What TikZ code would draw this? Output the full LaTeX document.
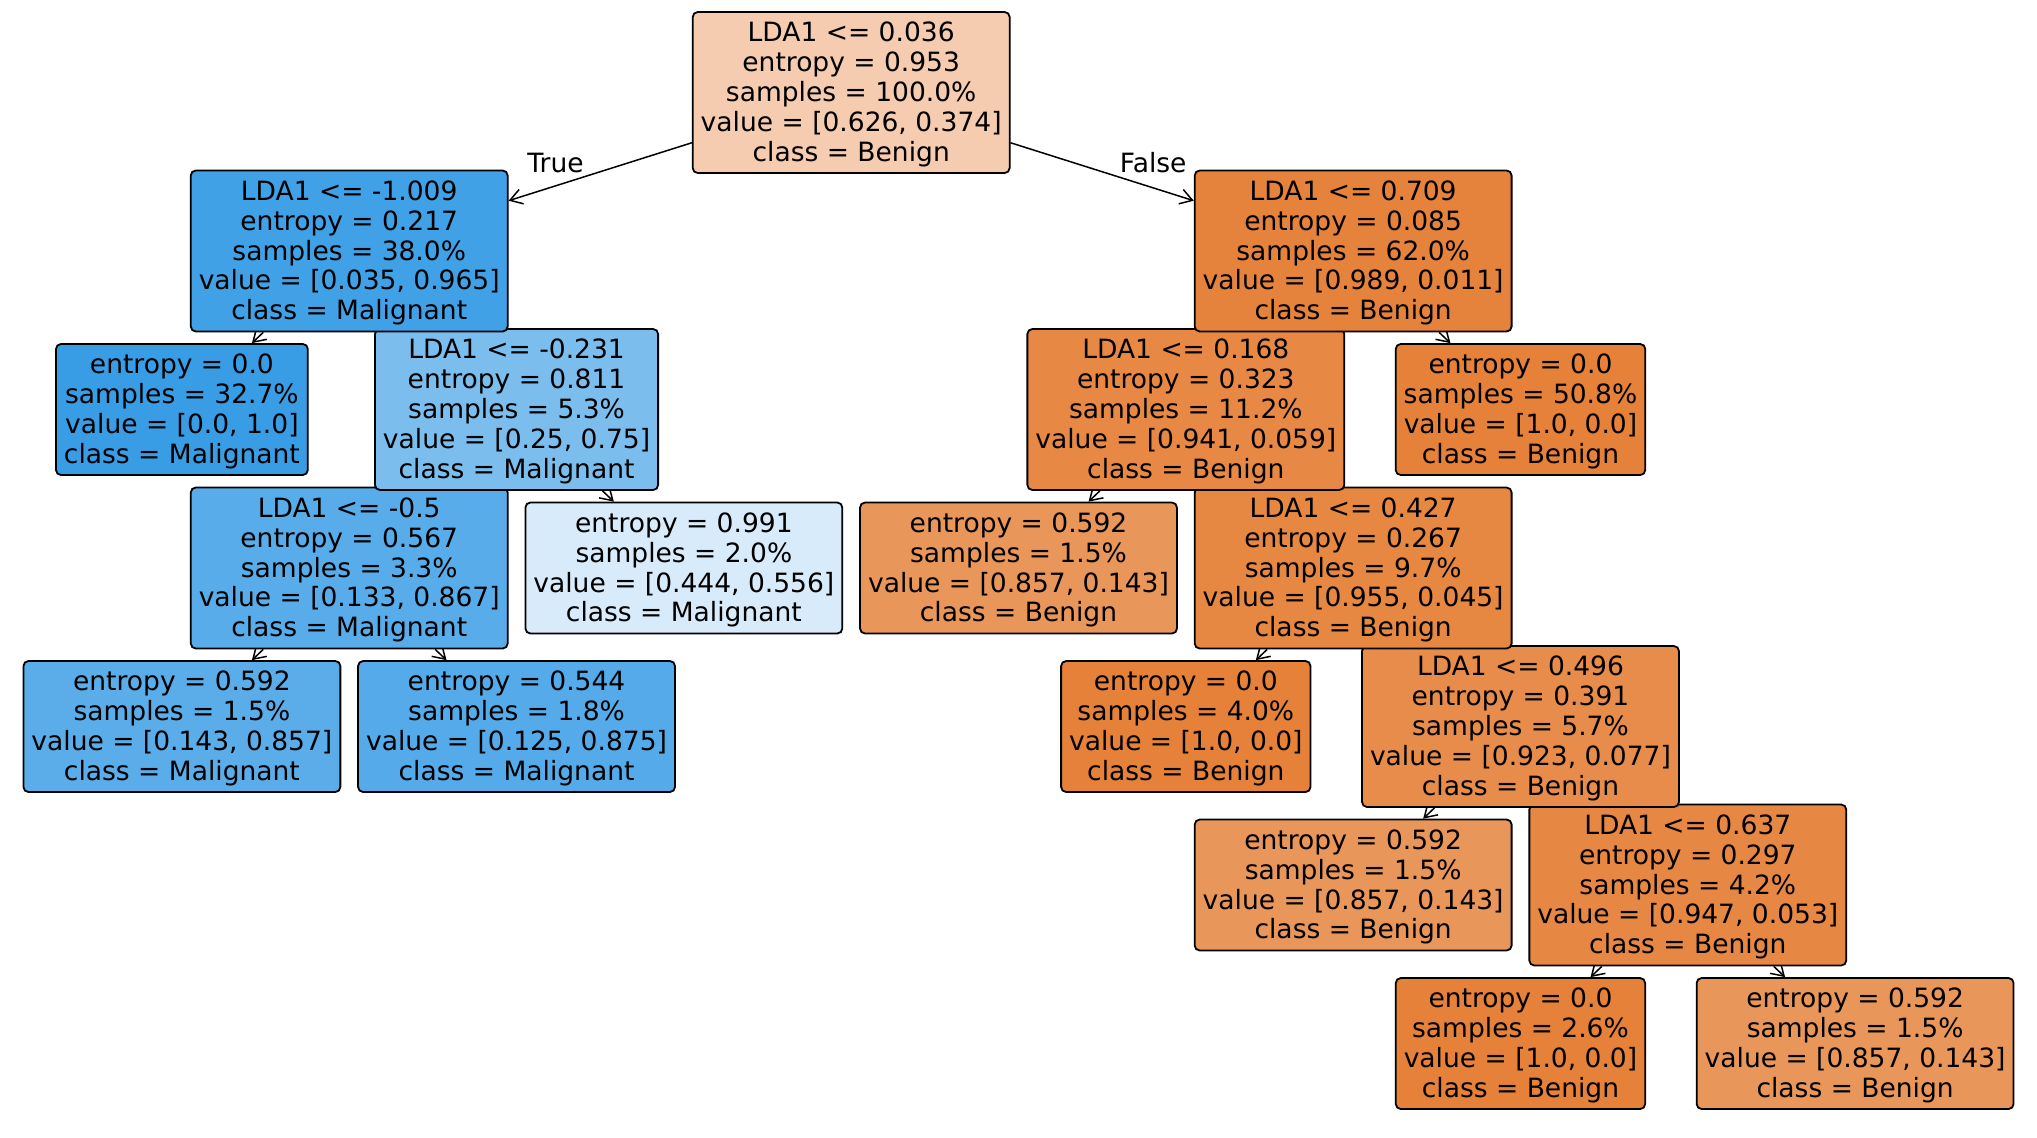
\documentclass[tikz,border=0pt]{standalone}
\usepackage{fontspec}
\setmainfont{DejaVu Sans}
\usetikzlibrary{arrows.meta}
\pgfdeclarelayer{background}
\pgfsetlayers{background,main}

% node fills: white blended toward the class colour by node purity
\definecolor{cN0}{RGB}{245,204,175}
\definecolor{cL}{RGB}{64,161,230}
\definecolor{cR}{RGB}{229,130,59}
\definecolor{cLL}{RGB}{57,157,229}
\definecolor{cLR}{RGB}{123,190,238}
\definecolor{cLRL}{RGB}{87,172,233}
\definecolor{cLRR}{RGB}{215,235,250}
\definecolor{cLRLL}{RGB}{90,173,233}
\definecolor{cLRLR}{RGB}{85,171,233}
\definecolor{cRL}{RGB}{231,137,69}
\definecolor{cPure}{RGB}{229,129,57}
\definecolor{cMix}{RGB}{233,150,90}
\definecolor{cRLR}{RGB}{230,135,66}
\definecolor{cRLRR}{RGB}{231,140,74}
\definecolor{cRLRRR}{RGB}{230,136,68}

\newcommand{\gx}[1]{181.9+167.32*#1}
\newcommand{\gy}[1]{92.5+158.5*#1}
% raises the top of the first text line a little, centring the block like the boxes
\newcommand{\topstrut}{\rule{0pt}{11.8pt}}

\begin{document}
\begin{tikzpicture}[x=0.5pt,y=-0.5pt,
  treebox/.style={draw=black, line width=0.9pt, rounded corners=2.5pt,
    align=center, inner xsep=4pt, inner ysep=2pt,
    font=\fontsize{13.26}{14.94}\selectfont},
  split/.style={treebox, minimum height=80.5pt},
  leaf/.style={treebox, minimum height=65.5pt},
  edge/.style={line width=0.75pt, -{Straight Barb[length=6pt,width=7.5pt]}},
  lbl/.style={font=\fontsize{13.26}{14.94}\selectfont, inner sep=0pt}
]
\useasboundingbox (0,0) rectangle (2037,1137);

% deeper levels first, so that each parent box lies over its children
% depth 6
\node[leaf, fill=cPure] (rlrrrl) at ({\gx{8}},{\gy{6}})
  {\topstrut entropy = 0.0\\samples = 2.6\%\\value = [1.0, 0.0]\\class = Benign};
\node[leaf, fill=cMix] (rlrrrr) at ({\gx{10}},{\gy{6}})
  {\topstrut entropy = 0.592\\samples = 1.5\%\\value = [0.857, 0.143]\\class = Benign};
% depth 5
\node[leaf, fill=cMix] (rlrrl) at ({\gx{7}},{\gy{5}})
  {\topstrut entropy = 0.592\\samples = 1.5\%\\value = [0.857, 0.143]\\class = Benign};
\node[split, fill=cRLRRR] (rlrrr) at ({\gx{9}},{\gy{5}})
  {\topstrut LDA1 <= 0.637\\entropy = 0.297\\samples = 4.2\%\\value = [0.947, 0.053]\\class = Benign};
% depth 4
\node[leaf, fill=cLRLL] (lrll) at ({\gx{0}},{\gy{4}})
  {\topstrut entropy = 0.592\\samples = 1.5\%\\value = [0.143, 0.857]\\class = Malignant};
\node[leaf, fill=cLRLR] (lrlr) at ({\gx{2}},{\gy{4}})
  {\topstrut entropy = 0.544\\samples = 1.8\%\\value = [0.125, 0.875]\\class = Malignant};
\node[leaf, fill=cPure] (rlrl) at ({\gx{6}},{\gy{4}})
  {\topstrut entropy = 0.0\\samples = 4.0\%\\value = [1.0, 0.0]\\class = Benign};
\node[split, fill=cRLRR] (rlrr) at ({\gx{8}},{\gy{4}})
  {\topstrut LDA1 <= 0.496\\entropy = 0.391\\samples = 5.7\%\\value = [0.923, 0.077]\\class = Benign};
% depth 3
\node[split, fill=cLRL] (lrl) at ({\gx{1}},{\gy{3}})
  {\topstrut LDA1 <= -0.5\\entropy = 0.567\\samples = 3.3\%\\value = [0.133, 0.867]\\class = Malignant};
\node[leaf, fill=cLRR] (lrr) at ({\gx{3}},{\gy{3}})
  {\topstrut entropy = 0.991\\samples = 2.0\%\\value = [0.444, 0.556]\\class = Malignant};
\node[leaf, fill=cMix] (rll) at ({\gx{5}},{\gy{3}})
  {\topstrut entropy = 0.592\\samples = 1.5\%\\value = [0.857, 0.143]\\class = Benign};
\node[split, fill=cRLR] (rlr) at ({\gx{7}},{\gy{3}})
  {\topstrut LDA1 <= 0.427\\entropy = 0.267\\samples = 9.7\%\\value = [0.955, 0.045]\\class = Benign};
% depth 2
\node[leaf, fill=cLL] (ll) at ({\gx{0}},{\gy{2}})
  {\topstrut entropy = 0.0\\samples = 32.7\%\\value = [0.0, 1.0]\\class = Malignant};
\node[split, fill=cLR] (lr) at ({\gx{2}},{\gy{2}})
  {\topstrut LDA1 <= -0.231\\entropy = 0.811\\samples = 5.3\%\\value = [0.25, 0.75]\\class = Malignant};
\node[split, fill=cRL] (rl) at ({\gx{6}},{\gy{2}})
  {\topstrut LDA1 <= 0.168\\entropy = 0.323\\samples = 11.2\%\\value = [0.941, 0.059]\\class = Benign};
\node[leaf, fill=cPure] (rr) at ({\gx{8}},{\gy{2}})
  {\topstrut entropy = 0.0\\samples = 50.8\%\\value = [1.0, 0.0]\\class = Benign};
% depth 1
\node[split, fill=cL] (l) at ({\gx{1}},{\gy{1}})
  {\topstrut LDA1 <= -1.009\\entropy = 0.217\\samples = 38.0\%\\value = [0.035, 0.965]\\class = Malignant};
\node[split, fill=cR] (r) at ({\gx{7}},{\gy{1}})
  {\topstrut LDA1 <= 0.709\\entropy = 0.085\\samples = 62.0\%\\value = [0.989, 0.011]\\class = Benign};
% root
\node[split, fill=cN0] (root) at ({\gx{4}},{\gy{0}})
  {\topstrut LDA1 <= 0.036\\entropy = 0.953\\samples = 100.0\%\\value = [0.626, 0.374]\\class = Benign};

% branch labels of the root split
\node[lbl, anchor=base] (lblTrue) at (555.5,172.7) {True};
\node[lbl, anchor=base] (lblFalse) at (1153.2,172.7) {False};

% connectors run under the boxes
\begin{pgfonlayer}{background}
\draw[edge] (root) -- (l);
\draw[edge] (root) -- (r);
\draw[edge] (l) -- (ll);
\draw[edge] (l) -- (lr);
\draw[edge] (lr) -- (lrl);
\draw[edge] (lr) -- (lrr);
\draw[edge] (lrl) -- (lrll);
\draw[edge] (lrl) -- (lrlr);
\draw[edge] (r) -- (rl);
\draw[edge] (r) -- (rr);
\draw[edge] (rl) -- (rll);
\draw[edge] (rl) -- (rlr);
\draw[edge] (rlr) -- (rlrl);
\draw[edge] (rlr) -- (rlrr);
\draw[edge] (rlrr) -- (rlrrl);
\draw[edge] (rlrr) -- (rlrrr);
\draw[edge] (rlrrr) -- (rlrrrl);
\draw[edge] (rlrrr) -- (rlrrrr);
\end{pgfonlayer}
\end{tikzpicture}
\end{document}
